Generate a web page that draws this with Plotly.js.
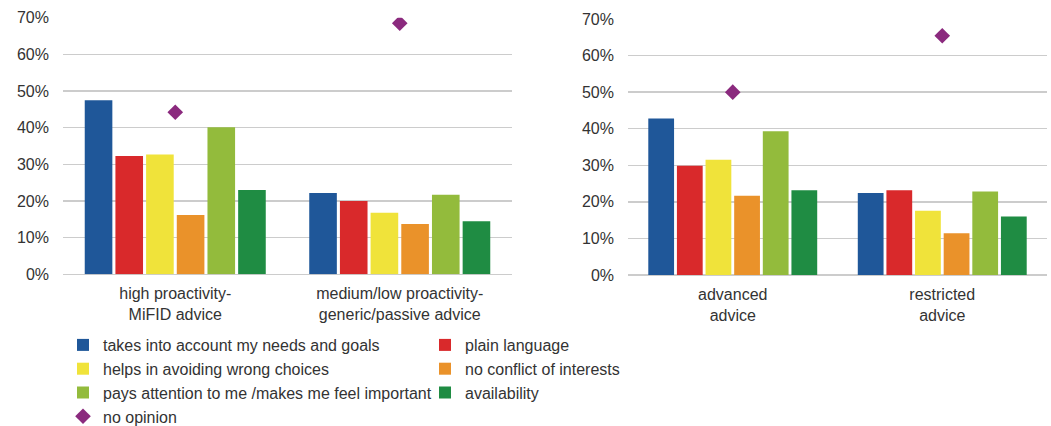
<!DOCTYPE html>
<html>
<head>
<meta charset="utf-8">
<script src="https://cdn.plot.ly/plotly-3.0.1.min.js"></script>
<style>html,body{margin:0;padding:0;background:#fff;}#chart{width:1051px;height:426px;}</style>
</head>
<body>
<div id="chart"></div>
<script>
// ---- data (percent) ----
const leftCategories = ["high proactivity-<br>MiFID advice", "medium/low proactivity-<br>generic/passive advice"];
const rightCategories = ["advanced<br>advice", "restricted<br>advice"];

const seriesNames = [
  "takes into account my needs and goals",
  "plain language",
  "helps in avoiding wrong choices",
  "no conflict of interests",
  "pays attention to me /makes me feel important",
  "availability"
];
const opinionName = "no opinion";

const needsGoalsLeft    = [47.5, 22.2];
const plainLangLeft     = [32.3, 20.0];
const wrongChoicesLeft  = [32.7, 16.8];
const noConflictLeft    = [16.2, 13.7];
const attentionLeft     = [40.1, 21.7];
const availabilityLeft  = [23.0, 14.5];
const noOpinionLeft     = [44.2, 68.5];

const needsGoalsRight   = [42.8, 22.4];
const plainLangRight    = [29.9, 23.2];
const wrongChoicesRight = [31.5, 17.6];
const noConflictRight   = [21.7, 11.4];
const attentionRight    = [39.3, 22.8];
const availabilityRight = [23.2, 16.0];
const noOpinionRight    = [50.0, 65.4];

const yTickVals = [0, 10, 20, 30, 40, 50, 60, 70];
const yTickText = ["0%", "10%", "20%", "30%", "40%", "50%", "60%", "70%"];

// ---- styling ----
const colors = ["#1f5799", "#d9292b", "#f0e33a", "#ea922a", "#93bb3c", "#1f8c43"];
const diamondColor = "#8b2a7e";
const legendOf = ["legend", "legend2", "legend", "legend2", "legend", "legend2"];

const leftSeries = [needsGoalsLeft, plainLangLeft, wrongChoicesLeft, noConflictLeft, attentionLeft, availabilityLeft];
const rightSeries = [needsGoalsRight, plainLangRight, wrongChoicesRight, noConflictRight, attentionRight, availabilityRight];

const traces = [];
seriesNames.forEach((name, i) => {
  traces.push({
    type: "bar", name: name, x: leftCategories, y: leftSeries[i],
    xaxis: "x", yaxis: "y", legend: legendOf[i], legendgroup: name,
    marker: {color: colors[i]}, showlegend: true, hoverinfo: "y+name"
  });
});
seriesNames.forEach((name, i) => {
  traces.push({
    type: "bar", name: name, x: rightCategories, y: rightSeries[i],
    xaxis: "x2", yaxis: "y2", legendgroup: name,
    marker: {color: colors[i]}, showlegend: false
  });
});
traces.push({
  type: "scatter", mode: "markers", name: opinionName, x: leftCategories, y: noOpinionLeft,
  xaxis: "x", yaxis: "y", legend: "legend", legendgroup: opinionName,
  marker: {symbol: "diamond", size: 12, color: diamondColor}, showlegend: true
});
traces.push({
  type: "scatter", mode: "markers", name: opinionName, x: rightCategories, y: noOpinionRight,
  xaxis: "x2", yaxis: "y2", legendgroup: opinionName,
  marker: {symbol: "diamond", size: 12, color: diamondColor}, showlegend: false
});

const fontFam = "'Liberation Sans', Arial, sans-serif";
const textColor = "#333333";
const gridColor = "#cccccc";

const yBase = {
  range: [0, 70], tickmode: "array", tickvals: yTickVals, ticktext: yTickText, showgrid: true,
  gridcolor: gridColor, gridwidth: 1.5, zeroline: true, zerolinecolor: gridColor, zerolinewidth: 1.5,
  showline: false, ticks: "", ticklabelstandoff: 13,
  tickfont: {family: fontFam, size: 16, color: textColor}, fixedrange: true, automargin: false
};
const xBase = {
  type: "category", showgrid: false, showline: false, zeroline: false, ticks: "",
  tickfont: {family: fontFam, size: 16, color: textColor}, fixedrange: true, automargin: false,
  ticklabelstandoff: 8
};

const layout = {
  width: 1051, height: 426,
  margin: {l: 0, r: 0, t: 0, b: 0, autoexpand: false},
  paper_bgcolor: "#ffffff", plot_bgcolor: "#ffffff",
  barmode: "group", bargap: 0.18, bargroupgap: 0.1,
  font: {family: fontFam, size: 16, color: textColor},
  xaxis: Object.assign({}, xBase, {domain: [63/1051, 512/1051], anchor: "y"}),
  xaxis2: Object.assign({}, xBase, {domain: [628/1051, 1047/1051], anchor: "y2"}),
  yaxis: Object.assign({}, yBase, {domain: [1 - 274.3/426, 1 - 17.7/426], anchor: "x"}),
  yaxis2: Object.assign({}, yBase, {domain: [1 - 275/426, 1 - 19/426], anchor: "x2"}),
  legend: {
    orientation: "v", x: 63/1051, y: 1 - 328/426, xanchor: "left", yanchor: "top",
    bgcolor: "rgba(0,0,0,0)", borderwidth: 0, tracegroupgap: 0,
    font: {family: fontFam, size: 16, color: textColor}, traceorder: "normal"
  },
  legend2: {
    orientation: "v", x: 425/1051, y: 1 - 328/426, xanchor: "left", yanchor: "top",
    bgcolor: "rgba(0,0,0,0)", borderwidth: 0, tracegroupgap: 0,
    font: {family: fontFam, size: 16, color: textColor}, traceorder: "normal"
  },
  showlegend: true
};

Plotly.newPlot("chart", traces, layout, {displayModeBar: false, staticPlot: true});
</script>
</body>
</html>
